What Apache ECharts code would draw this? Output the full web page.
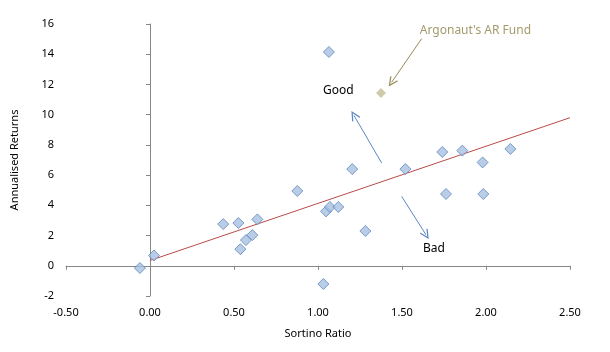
<!DOCTYPE html>
<html>
<head>
<meta charset="utf-8">
<script src="https://cdn.jsdelivr.net/npm/echarts@6/dist/echarts.min.js"></script>
<style>
  html, body { margin: 0; padding: 0; background: #fff; }
  #chart { width: 610px; height: 352px; }
</style>
</head>
<body>
<div id="chart"></div>
<script>
// fund points: [sortino, annualised return]
const funds = [
  [-0.06, -0.15], [0.024, 0.68], [0.436, 2.76], [0.526, 2.83], [0.538, 1.10],
  [0.571, 1.70], [0.609, 2.03], [0.639, 3.07], [0.877, 4.95], [1.048, 3.60],
  [1.071, 3.89], [1.121, 3.89], [1.032, -1.21], [1.204, 6.40], [1.065, 14.15],
  [1.520, 6.40], [1.980, 6.84], [1.762, 4.75], [1.984, 4.75], [1.282, 2.30],
  [1.740, 7.53], [1.859, 7.62], [2.145, 7.73]
];
const argonaut = [[1.375, 11.44]];
const trendLine = [[0, 0.35], [2.5, 9.8]];

const xTicks = { min: -0.5, max: 2.5, step: 0.5 };
const yTicks = { min: -2, max: 16, step: 2 };

// annotations (data coordinates)
const goodArrow = [[1.379, 6.80], [1.214, 9.95]];
const badArrow = [[1.498, 4.59], [1.643, 2.05]];
const fundArrow = [[1.617, 15.03], [1.438, 12.14]];
const goodLabel = [1.121, 11.61];
const badLabel = [1.69, 1.13];
const fundLabel = [1.937, 15.56];

const axisGrey = '#868686';
const openArrow = 'path://M5,0 L10,9 L9,10 L5,2.6 L1,10 L0,9 Z';

const chart = echarts.init(document.getElementById('chart'));

function arrowLine(pts, color) {
  return [{ coord: pts[0], lineStyle: { color: color } }, { coord: pts[1] }];
}
function textPoint(pos, text, color) {
  return {
    coord: pos, symbol: 'circle', symbolSize: 0,
    label: { show: true, position: 'inside', formatter: text, color: color,
      fontSize: 12, fontFamily: 'Noto Sans' }
  };
}

const labelFont = { fontSize: 11, fontFamily: 'Noto Sans', color: '#000' };

chart.setOption({
  animation: false,
  grid: { left: 66, right: 40, top: 24, bottom: 56, outerBoundsMode: 'none' },
  xAxis: [
    {
      type: 'value', min: xTicks.min, max: xTicks.max, interval: xTicks.step,
      position: 'bottom',
      name: 'Sortino Ratio', nameLocation: 'middle', nameGap: 32,
      nameTextStyle: labelFont,
      axisLine: { show: false, onZero: false },
      axisTick: { show: false },
      splitLine: { show: false },
      axisLabel: Object.assign({ margin: 11, formatter: v => v.toFixed(2) }, labelFont)
    },
    {
      type: 'value', min: xTicks.min, max: xTicks.max, interval: xTicks.step,
      position: 'bottom',
      axisLine: { show: true, onZero: true, onZeroAxisIndex: 0, lineStyle: { color: axisGrey } },
      axisTick: { show: true, length: 4, lineStyle: { color: axisGrey } },
      splitLine: { show: false },
      axisLabel: { show: false }
    }
  ],
  yAxis: [
    {
      type: 'value', min: yTicks.min, max: yTicks.max, interval: yTicks.step,
      position: 'left',
      name: 'Annualised Returns', nameLocation: 'middle', nameGap: 46,
      nameTextStyle: labelFont,
      axisLine: { show: false, onZero: false },
      axisTick: { show: false },
      splitLine: { show: false },
      axisLabel: Object.assign({ margin: 12 }, labelFont)
    },
    {
      type: 'value', min: yTicks.min, max: yTicks.max, interval: yTicks.step,
      position: 'left',
      axisLine: { show: true, onZero: true, onZeroAxisIndex: 0, lineStyle: { color: axisGrey } },
      axisTick: { show: true, length: 4, lineStyle: { color: axisGrey } },
      splitLine: { show: false },
      axisLabel: { show: false }
    }
  ],
  series: [
    {
      type: 'line', data: trendLine, xAxisIndex: 0, yAxisIndex: 0,
      symbol: 'none', silent: true,
      lineStyle: { color: '#b94a48', width: 1 }, z: 1
    },
    {
      type: 'scatter', data: funds, xAxisIndex: 0, yAxisIndex: 0,
      symbol: 'diamond', symbolSize: 11,
      itemStyle: { color: '#a7c0e0', borderColor: '#5d87bf', borderWidth: 1 }, z: 3
    },
    {
      type: 'scatter', data: argonaut, xAxisIndex: 0, yAxisIndex: 0,
      symbol: 'diamond', symbolSize: 10,
      itemStyle: { color: '#c4bd97' }, z: 3,
      markLine: {
        silent: true, animation: false,
        symbol: ['none', openArrow], symbolSize: [9, 10],
        label: { show: false },
        lineStyle: { type: 'solid', width: 1 },
        data: [
          arrowLine(goodArrow, '#5b86c0'),
          arrowLine(badArrow, '#5b86c0'),
          arrowLine(fundArrow, '#948a54')
        ]
      },
      markPoint: {
        silent: true, animation: false,
        data: [
          textPoint(goodLabel, 'Good', '#000'),
          textPoint(badLabel, 'Bad', '#000'),
          textPoint(fundLabel, "Argonaut's AR Fund", '#a39a6c')
        ]
      }
    }
  ]
});
</script>
</body>
</html>
